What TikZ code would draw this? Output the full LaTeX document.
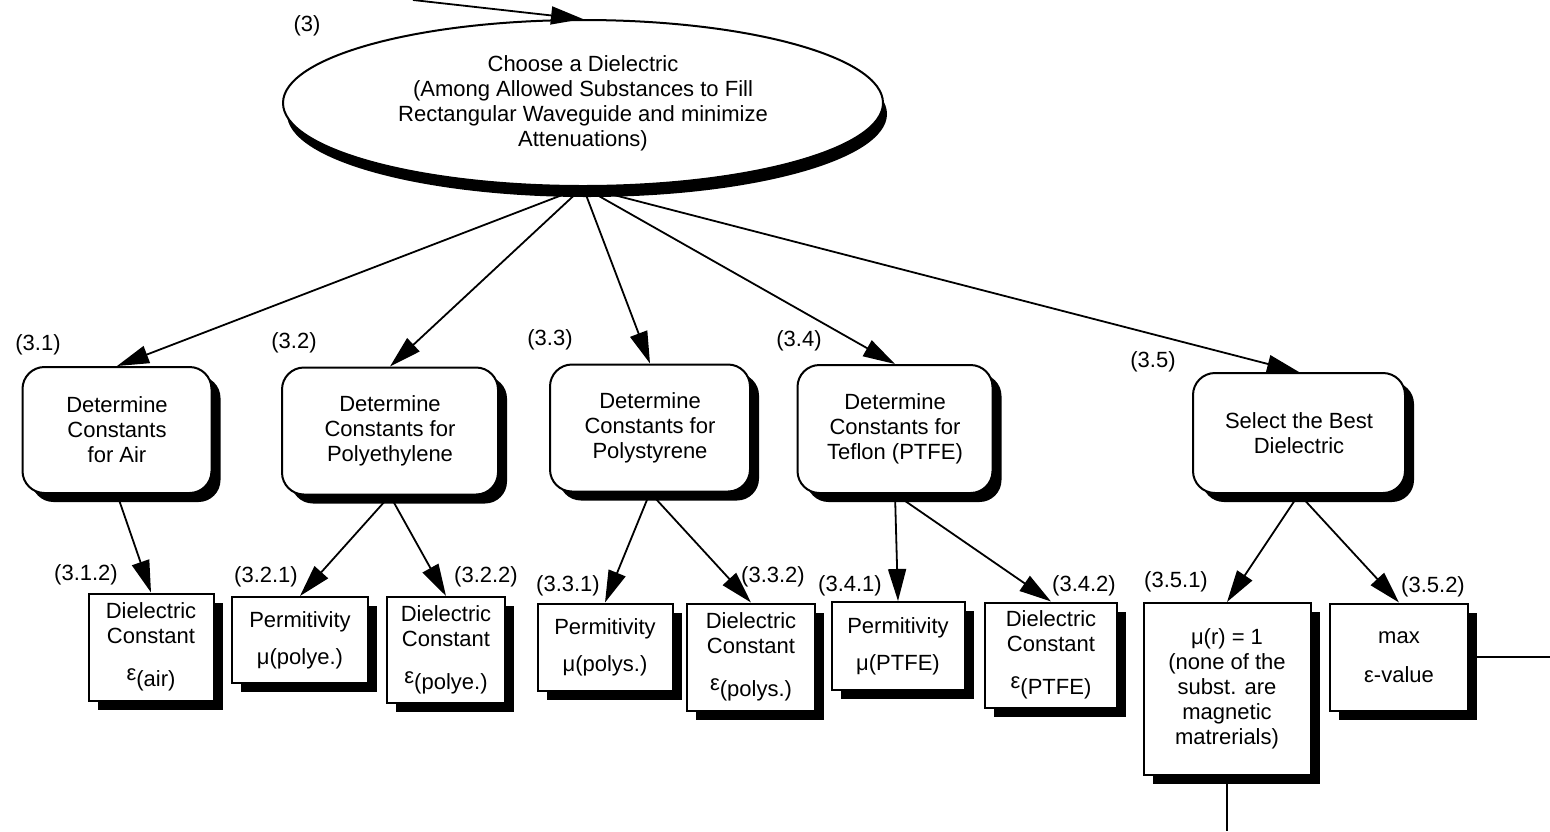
\documentclass[tikz,border=0pt]{standalone}
\usepackage{fontspec}
\setmainfont{Liberation Sans}
\usetikzlibrary{shapes.geometric,shadows,arrows.meta}
\begin{document}
\begin{tikzpicture}[x=0.5pt,y=-0.5pt,
  every node/.style={font=\fontsize{11}{12.5}\selectfont},
  shad/.style={drop shadow={shadow xshift=4.5pt,shadow yshift=-4.5pt,opacity=1,fill=black}},
  proc/.style={draw=black,line width=1pt,rounded corners=11pt,fill=white,align=center,inner sep=0pt,shad},
  leaf/.style={draw=black,line width=1pt,fill=white,align=center,inner sep=0pt,shad},
  lbl/.style={inner sep=0pt},
  arr/.style={line width=0.9pt,-{Triangle[length=16pt,width=9pt]}},
  plain/.style={line width=0.9pt}]
\fill[white] (0,0) rectangle (1550,831);
\useasboundingbox (0,0) rectangle (1550,831);

% top node
\node[ellipse,draw=black,line width=1pt,fill=white,minimum width=300pt,minimum height=83pt,inner sep=0pt,align=center,
  drop shadow={shadow xshift=2pt,shadow yshift=-5.5pt,opacity=1,fill=black}] (ell) at (583,103)
  {Choose a Dielectric\\(Among Allowed Substances to Fill\\Rectangular Waveguide and minimize\\Attenuations)};
\node[lbl] (l3) at (307,26) {(3)};
\coordinate (topin) at (413,0);

% level 2
\node[proc,minimum width=94.5pt,minimum height=63pt] (b31) at (117,430) {Determine\\Constants\\for Air};
\node[proc,minimum width=108pt,minimum height=63.5pt] (b32) at (390,431) {Determine\\Constants for\\Polyethylene};
\node[proc,minimum width=100pt,minimum height=63.5pt] (b33) at (650,428) {Determine\\Constants for\\Polystyrene};
\node[proc,minimum width=97.5pt,minimum height=64pt] (b34) at (895,429) {Determine\\Constants for\\Teflon (PTFE)};
\node[proc,minimum width=106pt,minimum height=60pt] (b35) at (1299,433) {Select the Best\\Dielectric};

\node[lbl] (l31) at (38,345) {(3.1)};
\node[lbl] (l32) at (294,343) {(3.2)};
\node[lbl] (l33) at (550,340) {(3.3)};
\node[lbl] (l34) at (799,341) {(3.4)};
\node[lbl] (l35) at (1153,362) {(3.5)};

% level 3
\node[leaf,minimum width=62.5pt,minimum height=53.5pt] (c312) at (151,647) {Dielectric\\Constant\\[9pt]\raisebox{3pt}{ε}(air)};
\node[leaf,minimum width=68pt,minimum height=43pt] (c321) at (300,640) {Permitivity\\[6pt]μ(polye.)};
\node[leaf,minimum width=59pt,minimum height=53pt] (c322) at (446,650) {Dielectric\\Constant\\[9pt]\raisebox{3pt}{ε}(polye.)};
\node[leaf,minimum width=67.5pt,minimum height=43.5pt] (c331) at (605,647) {Permitivity\\[6pt]μ(polys.)};
\node[leaf,minimum width=64pt,minimum height=53.5pt] (c332) at (751,657) {Dielectric\\Constant\\[9pt]\raisebox{3pt}{ε}(polys.)};
\node[leaf,minimum width=66.5pt,minimum height=44pt] (c341) at (898,646) {Permitivity\\[6pt]μ(PTFE)};
\node[leaf,minimum width=66pt,minimum height=52.5pt] (c342) at (1051,655) {Dielectric\\Constant\\[9pt]\raisebox{3pt}{ε}(PTFE)};
\node[leaf,minimum width=83.5pt,minimum height=86pt] (c351) at (1227,689) {μ(r) = 1\\(none of the\\subst. are\\magnetic\\matrerials)};
\node[leaf,minimum width=69pt,minimum height=53.5pt] (c352) at (1399,657) {max\\[7pt]ε-value};

\node[lbl] (l312) at (86,575) {(3.1.2)};
\node[lbl] (l321) at (266,577) {(3.2.1)};
\node[lbl] (l322) at (486,577) {(3.2.2)};
\node[lbl] (l331) at (568,586) {(3.3.1)};
\node[lbl] (l332) at (773,577) {(3.3.2)};
\node[lbl] (l341) at (850,586) {(3.4.1)};
\node[lbl] (l342) at (1084,586) {(3.4.2)};
\node[lbl] (l351) at (1176,582) {(3.5.1)};
\node[lbl] (l352) at (1433,587) {(3.5.2)};

\coordinate (outr) at (1550,657);
\coordinate (outb) at (1227,831);

% connectors
\draw[arr] (topin) -- (ell.north);
\foreach \t in {b31,b32,b33,b34,b35} \draw[arr] (ell.south) -- (\t.north);
\draw[arr] (b31.south) -- (c312.north);
\draw[arr] (b32.south) -- (c321.north);
\draw[arr] (b32.south) -- (c322.north);
\draw[arr] (b33.south) -- (c331.north);
\draw[arr] (b33.south) -- (c332.north);
\draw[arr] (b34.south) -- (c341.north);
\draw[arr] (b34.south) -- (c342.north);
\draw[arr] (b35.south) -- (c351.north);
\draw[arr] (b35.south) -- (c352.north);
\draw[plain] (c352.east) -- (outr);
\draw[plain] (c351.south) -- (outb);
\end{tikzpicture}
\end{document}
